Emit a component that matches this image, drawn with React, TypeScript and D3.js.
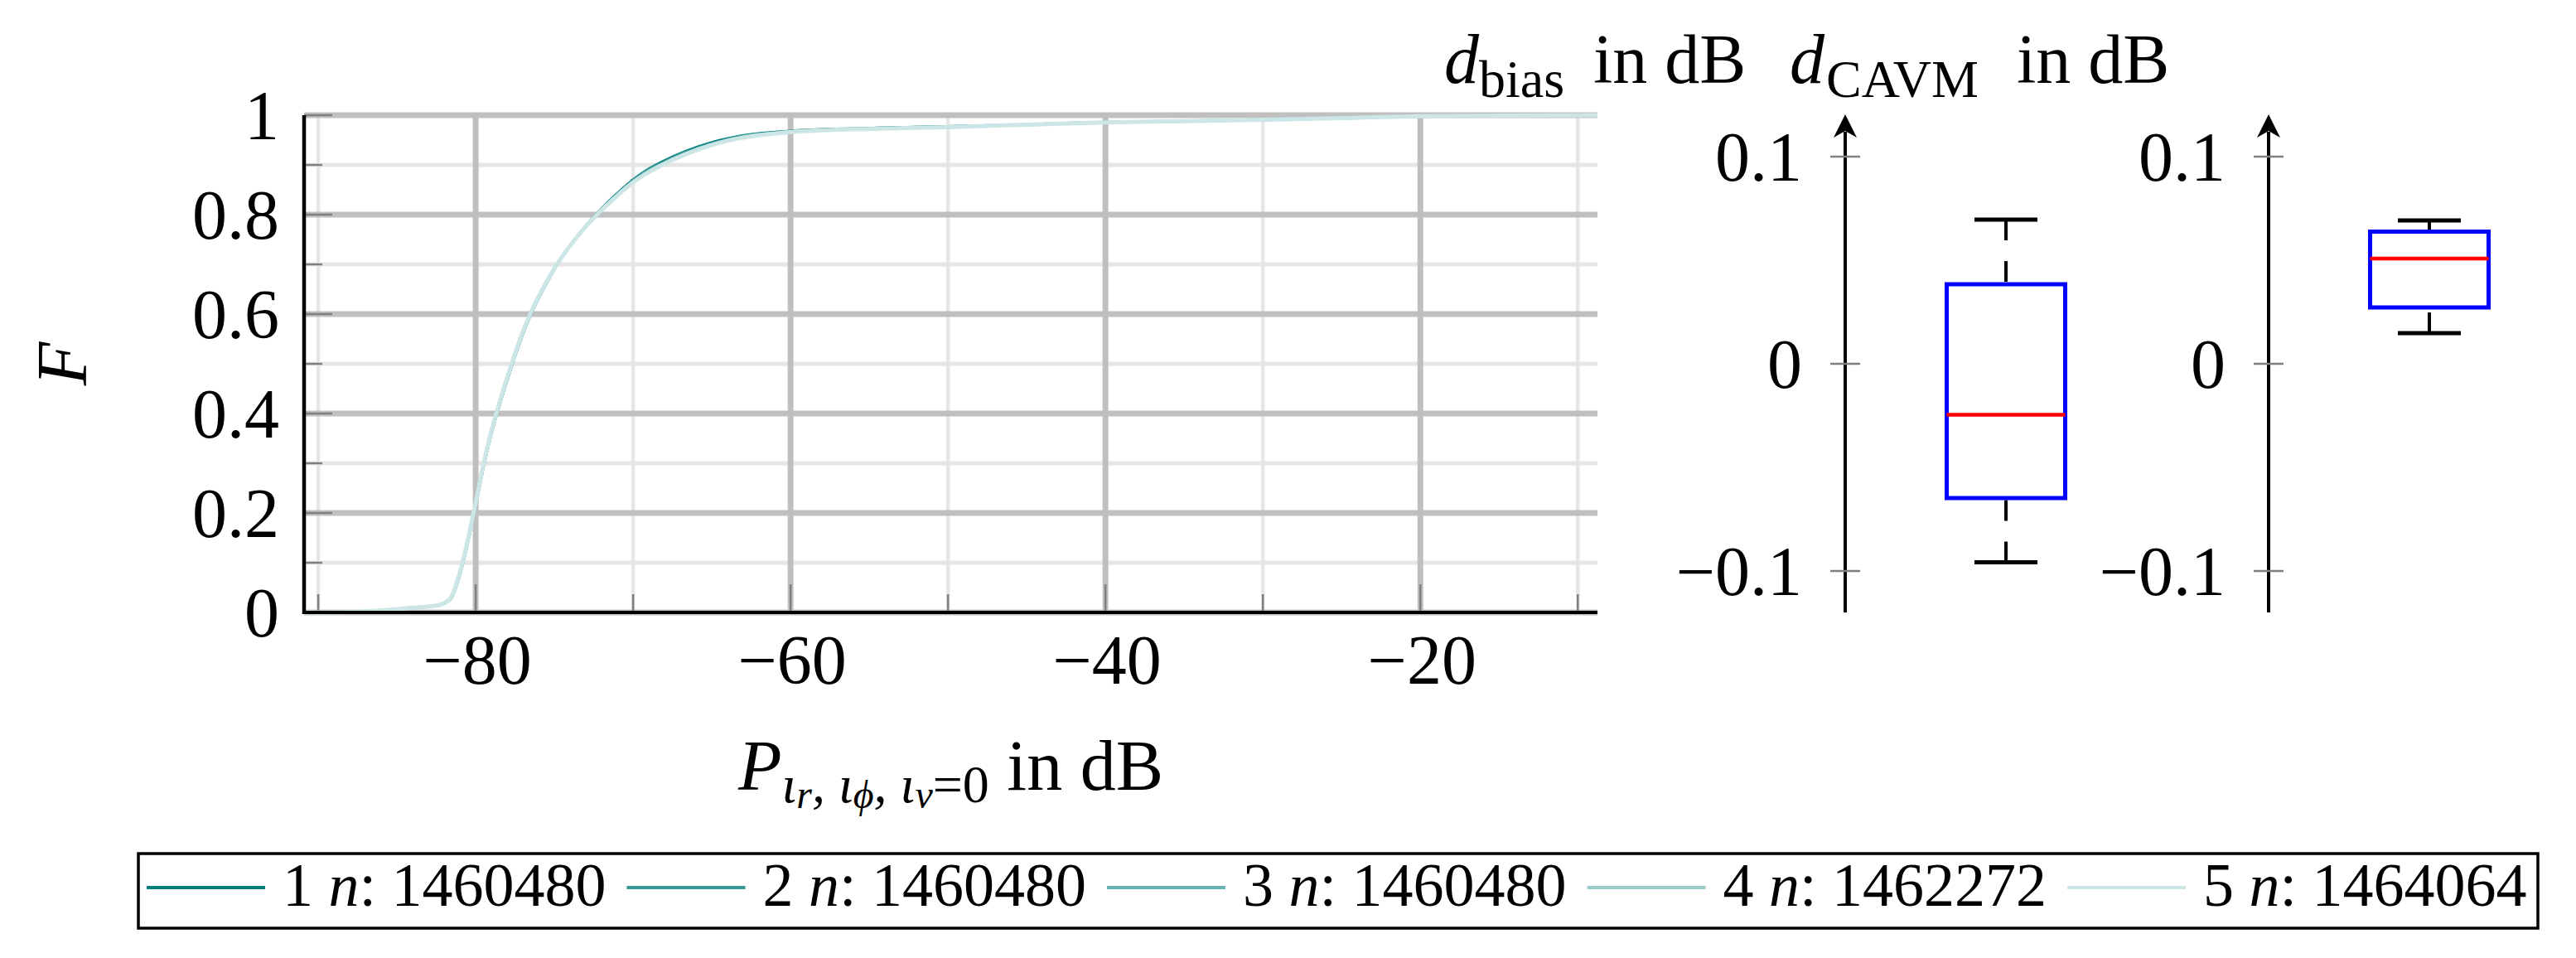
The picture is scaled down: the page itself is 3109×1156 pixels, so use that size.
import React, { useEffect, useRef } from 'react';
import * as d3 from 'd3';

// CDF of P in dB, five runs on one shared dB grid
const dbGrid = [-90.9, -88, -86, -84.5, -83.3, -82.3, -81.6, -81.05, -80.7, -80.35, -80.0, -79.55, -79.0, -78.6, -77.9, -77.0, -76.5, -75.3, -74.9, -73.7, -72.3, -71.05, -70.2, -69.3, -68.1, -66.7, -64.9, -63.2, -60, -54.4, -50, -45, -40, -35, -30, -25, -20, -15, -8.75];
const cdf1 = [0, 0.001, 0.004, 0.008, 0.011, 0.015, 0.027, 0.072, 0.114, 0.164, 0.216, 0.287, 0.361, 0.406, 0.478, 0.561, 0.600, 0.674, 0.696, 0.750, 0.802, 0.841, 0.865, 0.886, 0.907, 0.927, 0.946, 0.958, 0.968, 0.974, 0.977, 0.981, 0.986, 0.988, 0.991, 0.994, 0.998, 0.999, 1.0];
const cdf2 = [0, 0.001, 0.004, 0.008, 0.011, 0.015, 0.028, 0.073, 0.115, 0.165, 0.217, 0.288, 0.362, 0.407, 0.479, 0.562, 0.601, 0.675, 0.696, 0.750, 0.801, 0.840, 0.864, 0.885, 0.905, 0.925, 0.944, 0.957, 0.967, 0.974, 0.977, 0.981, 0.986, 0.988, 0.991, 0.994, 0.998, 0.999, 1.0];
const cdf3 = [0, 0.001, 0.004, 0.008, 0.011, 0.015, 0.028, 0.074, 0.116, 0.166, 0.218, 0.289, 0.363, 0.408, 0.480, 0.563, 0.602, 0.675, 0.697, 0.750, 0.801, 0.839, 0.862, 0.883, 0.903, 0.923, 0.943, 0.956, 0.967, 0.973, 0.976, 0.981, 0.9855, 0.988, 0.991, 0.994, 0.998, 0.999, 1.0];
const cdf4 = [0, 0.001, 0.004, 0.008, 0.011, 0.015, 0.029, 0.075, 0.117, 0.167, 0.219, 0.290, 0.364, 0.409, 0.481, 0.564, 0.602, 0.676, 0.697, 0.750, 0.800, 0.838, 0.861, 0.881, 0.902, 0.922, 0.942, 0.955, 0.966, 0.973, 0.976, 0.981, 0.9855, 0.988, 0.991, 0.994, 0.998, 0.999, 1.0];
const cdf5 = [0, 0.001, 0.004, 0.008, 0.011, 0.015, 0.029, 0.076, 0.118, 0.168, 0.220, 0.291, 0.365, 0.410, 0.482, 0.565, 0.603, 0.676, 0.697, 0.750, 0.800, 0.837, 0.860, 0.880, 0.901, 0.921, 0.941, 0.954, 0.966, 0.973, 0.976, 0.981, 0.9855, 0.988, 0.991, 0.994, 0.998, 0.999, 1.0];

const seriesNames = ['1', '2', '3', '4', '5'];
const seriesCounts = ['1460480', '1460480', '1460480', '1462272', '1464064'];
const seriesColors = ['#007f7d', '#339997', '#66b2b1', '#99cccb', '#cce5e5'];

const xMajorTicks = [-80, -60, -40, -20];
const xMinorTicks = [-90, -70, -50, -30, -10];
const yMajorTicks = [0, 0.2, 0.4, 0.6, 0.8, 1];
const yMinorTicks = [0.1, 0.3, 0.5, 0.7, 0.9];

// box plots: d_bias and d_CAVM
const boxNames = ['bias', 'CAVM'];
const boxLowerWhisker = [-0.0958, 0.0148];
const boxQ1 = [-0.0648, 0.0272];
const boxMedian = [-0.0246, 0.0508];
const boxQ3 = [0.0384, 0.0638];
const boxUpperWhisker = [0.0696, 0.0692];
const boxTicks = [-0.1, 0, 0.1];

const FONT = '"Liberation Serif", "Times New Roman", serif';
const fmt = (v: number) => (v < 0 ? '\u2212' + d3.format('~g')(-v) : d3.format('~g')(v));

export default function App() {
  const ref = useRef<SVGSVGElement>(null);

  useEffect(() => {
    const svg = d3.select(ref.current);
    svg.selectAll('*').remove();

    const x = d3.scaleLinear().domain([-90.9, -8.75]).range([367, 1928]);
    const y = d3.scaleLinear().domain([0, 1]).range([739, 139]);
    const [x0, x1] = x.range();
    const [y0, y1] = y.range();

    // grid
    const g = svg.append('g');
    g.selectAll('.xmin').data(xMinorTicks).enter().append('line')
      .attr('x1', d => x(d)).attr('x2', d => x(d)).attr('y1', y0).attr('y2', y1)
      .attr('stroke', '#e6e6e6').attr('stroke-width', 4.5);
    g.selectAll('.ymin').data(yMinorTicks).enter().append('line')
      .attr('x1', x0).attr('x2', x1).attr('y1', d => y(d)).attr('y2', d => y(d))
      .attr('stroke', '#e6e6e6').attr('stroke-width', 5);
    g.selectAll('.xmaj').data(xMajorTicks).enter().append('line')
      .attr('x1', d => x(d)).attr('x2', d => x(d)).attr('y1', y0).attr('y2', y1)
      .attr('stroke', '#bfbfbf').attr('stroke-width', 7);
    g.selectAll('.ymaj').data(yMajorTicks).enter().append('line')
      .attr('x1', x0).attr('x2', x1).attr('y1', d => y(d)).attr('y2', d => y(d))
      .attr('stroke', '#bfbfbf').attr('stroke-width', 7);

    // ticks (inward)
    const tickCol = '#7f7f7f';
    g.selectAll('.xtM').data(xMajorTicks).enter().append('line')
      .attr('x1', d => x(d)).attr('x2', d => x(d)).attr('y1', y0).attr('y2', y0 - 34)
      .attr('stroke', tickCol).attr('stroke-width', 2.5);
    g.selectAll('.xtm').data(xMinorTicks).enter().append('line')
      .attr('x1', d => x(d)).attr('x2', d => x(d)).attr('y1', y0).attr('y2', y0 - 22)
      .attr('stroke', tickCol).attr('stroke-width', 2.5);
    g.selectAll('.ytM').data(yMajorTicks).enter().append('line')
      .attr('x1', x0).attr('x2', x0 + 34).attr('y1', d => y(d)).attr('y2', d => y(d))
      .attr('stroke', tickCol).attr('stroke-width', 2.5);
    g.selectAll('.ytm').data(yMinorTicks).enter().append('line')
      .attr('x1', x0).attr('x2', x0 + 22).attr('y1', d => y(d)).attr('y2', d => y(d))
      .attr('stroke', tickCol).attr('stroke-width', 2.5);

    // curves
    const allCdf = [cdf1, cdf2, cdf3, cdf4, cdf5];
    const line = d3.line<number>()
      .x((_, i) => x(dbGrid[i]))
      .y(d => y(d))
      .curve(d3.curveMonotoneX);
    svg.append('g').selectAll('path').data(allCdf).enter().append('path')
      .attr('d', d => line(d))
      .attr('fill', 'none')
      .attr('stroke', (_, i) => seriesColors[i])
      .attr('stroke-width', (_, i) => (i === 4 ? 5 : 3.5));

    // axis lines
    svg.append('line').attr('x1', x0).attr('x2', x0).attr('y1', y0 + 2).attr('y2', y1)
      .attr('stroke', '#000').attr('stroke-width', 4.5);
    svg.append('line').attr('x1', x0 - 2).attr('x2', x1).attr('y1', y0).attr('y2', y0)
      .attr('stroke', '#000').attr('stroke-width', 4);

    // tick labels
    svg.append('g').selectAll('text').data(xMajorTicks).enter().append('text')
      .attr('x', d => x(d) + 2).attr('y', 825)
      .attr('text-anchor', 'middle').attr('font-family', FONT).attr('font-size', 84)
      .text(d => fmt(d));
    svg.append('g').selectAll('text').data(yMajorTicks).enter().append('text')
      .attr('x', 337).attr('y', d => y(d) + 29)
      .attr('text-anchor', 'end').attr('font-family', FONT).attr('font-size', 84)
      .text(d => fmt(d));

    // y label
    svg.append('text')
      .attr('transform', 'translate(104,439) rotate(-90)')
      .attr('text-anchor', 'middle').attr('font-family', FONT).attr('font-size', 86)
      .attr('font-style', 'italic').text('F');

    // x label
    const xl = svg.append('text')
      .attr('x', (x0 + x1) / 2).attr('y', 953)
      .attr('text-anchor', 'middle').attr('font-family', FONT).attr('font-size', 86);
    xl.append('tspan').attr('font-style', 'italic').text('P');
    xl.append('tspan').attr('font-style', 'italic').attr('font-size', 64).attr('dy', 15).text('\u03b9');
    xl.append('tspan').attr('font-style', 'italic').attr('font-size', 48).attr('dy', 7).text('r');
    xl.append('tspan').attr('font-style', 'italic').attr('font-size', 64).attr('dy', -7).text(', \u03b9');
    xl.append('tspan').attr('font-style', 'italic').attr('font-size', 48).attr('dy', 7).text('\u03d5');
    xl.append('tspan').attr('font-style', 'italic').attr('font-size', 64).attr('dy', -7).text(', \u03b9');
    xl.append('tspan').attr('font-style', 'italic').attr('font-size', 48).attr('dy', 7).text('v');
    xl.append('tspan').attr('font-size', 64).attr('dy', -7).text('=0');
    xl.append('tspan').attr('dy', -15).text(' in dB');

    // box plots
    const yb = d3.scaleLinear().domain([-0.12, 0.12]).range([739, 139]);
    const axisX = [2227, 2738];
    const boxW = 143;
    const capW = 76;
    boxNames.forEach((name, i) => {
      const ax = axisX[i];
      const cx = ax + 194;
      const bg = svg.append('g');
      // axis with arrow
      bg.append('line').attr('x1', ax).attr('x2', ax).attr('y1', yb(-0.12)).attr('y2', yb(0.12) + 20)
        .attr('stroke', '#000').attr('stroke-width', 4);
      const tip = yb(0.12) - 1;
      bg.append('path')
        .attr('d', `M${ax},${tip} L${ax + 14},${tip + 28} L${ax},${tip + 20} L${ax - 14},${tip + 28} Z`)
        .attr('fill', '#000');
      bg.selectAll('.bt').data(boxTicks).enter().append('line')
        .attr('x1', ax - 18).attr('x2', ax + 18).attr('y1', d => yb(d)).attr('y2', d => yb(d))
        .attr('stroke', tickCol).attr('stroke-width', 2.5);
      bg.selectAll('text').data(boxTicks).enter().append('text')
        .attr('x', ax - 52).attr('y', d => yb(d) + 29)
        .attr('text-anchor', 'end').attr('font-family', FONT).attr('font-size', 84)
        .text(d => fmt(d));

      // whiskers (dashed, from cap toward box)
      bg.append('line').attr('x1', cx).attr('x2', cx)
        .attr('y1', yb(boxUpperWhisker[i])).attr('y2', yb(boxQ3[i]))
        .attr('stroke', '#000').attr('stroke-width', 4).attr('stroke-dasharray', '25 25');
      bg.append('line').attr('x1', cx).attr('x2', cx)
        .attr('y1', yb(boxLowerWhisker[i])).attr('y2', yb(boxQ1[i]))
        .attr('stroke', '#000').attr('stroke-width', 4).attr('stroke-dasharray', '25 25');
      [boxUpperWhisker[i], boxLowerWhisker[i]].forEach(v => {
        bg.append('line').attr('x1', cx - capW / 2).attr('x2', cx + capW / 2)
          .attr('y1', yb(v)).attr('y2', yb(v))
          .attr('stroke', '#000').attr('stroke-width', 5);
      });
      bg.append('rect')
        .attr('x', cx - boxW / 2).attr('width', boxW)
        .attr('y', yb(boxQ3[i])).attr('height', yb(boxQ1[i]) - yb(boxQ3[i]))
        .attr('fill', 'none').attr('stroke', '#0000ff').attr('stroke-width', 5);
      bg.append('line').attr('x1', cx - boxW / 2).attr('x2', cx + boxW / 2)
        .attr('y1', yb(boxMedian[i])).attr('y2', yb(boxMedian[i]))
        .attr('stroke', '#ff0000').attr('stroke-width', 4.5);
    });

    // box titles
    const titleX = [1743, 2160];
    const subX = [1785, 2204];
    const unitX = [1923, 2434];
    boxNames.forEach((name, i) => {
      const t = svg.append('text').attr('font-family', FONT).attr('font-size', 84);
      t.append('tspan').attr('x', titleX[i]).attr('y', 100).attr('font-style', 'italic').text('d');
      t.append('tspan').attr('x', subX[i]).attr('y', 117).attr('font-size', 64).text(name);
      t.append('tspan').attr('x', unitX[i]).attr('y', 100).text('in dB');
    });

    // legend
    svg.append('rect').attr('x', 167).attr('y', 1030).attr('width', 2896).attr('height', 90)
      .attr('fill', '#fff').attr('stroke', '#000').attr('stroke-width', 3.5);
    const lg = svg.append('g').selectAll('g').data(seriesNames).enter().append('g')
      .attr('transform', (_, i) => `translate(${177 + i * 579.5},0)`);
    lg.append('line').attr('x1', 0).attr('x2', 143).attr('y1', 1071).attr('y2', 1071)
      .attr('stroke', (_, i) => seriesColors[i]).attr('stroke-width', 4);
    const lt = lg.append('text').attr('x', 164).attr('y', 1093)
      .attr('font-family', FONT).attr('font-size', 74);
    lt.append('tspan').text(d => d + ' ');
    lt.append('tspan').attr('font-style', 'italic').text('n');
    lt.append('tspan').text((_, i) => ': ' + seriesCounts[i]);
  }, []);

  return (
    <div style={{ position: 'absolute', left: 0, top: 0 }}>
      <svg ref={ref} width={3109} height={1156} style={{ display: 'block', background: '#fff' }} />
    </div>
  );
}
